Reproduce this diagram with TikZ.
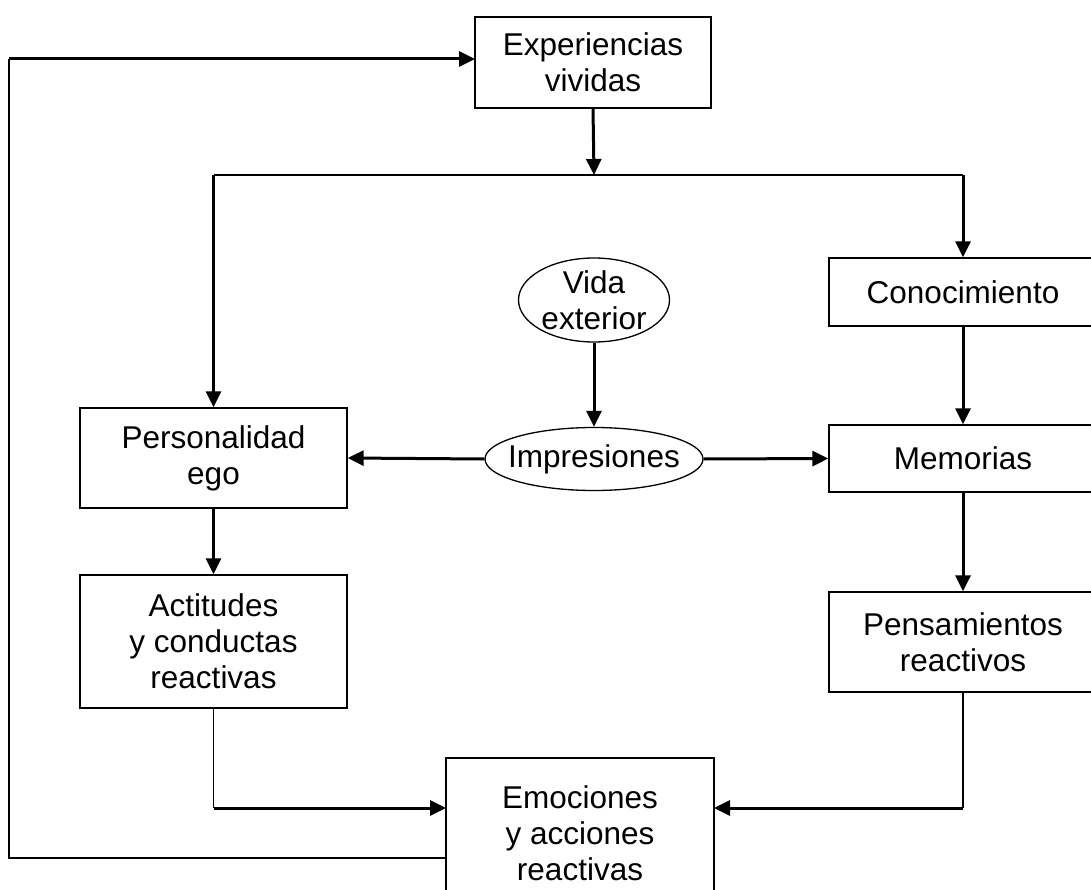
\documentclass[tikz,border=0pt]{standalone}
\usepackage{fontspec}
\setmainfont{Liberation Sans}
\usetikzlibrary{shapes.geometric,arrows.meta}
\begin{document}
\begin{tikzpicture}[x=1pt,y=-1pt,
  txt/.style={font=\fontsize{31.5}{36}\selectfont, align=center, inner sep=0pt},
  boxnode/.style={txt, draw, line width=1.3pt, rectangle},
  ellnode/.style={txt, draw, line width=1.3pt, ellipse},
  arr/.style={line width=3pt, -{Triangle[length=16pt,width=15pt]}},
  plainline/.style={line width=1.6pt}]
\useasboundingbox (0,0) rectangle (1091,890);
% boxes
\node[boxnode, minimum width=236, minimum height=91] (exp) at (593,62.5) {Experiencias\\vividas};
\node[boxnode, minimum width=268, minimum height=68] (con) at (963,292) {Conocimiento};
\node[ellnode, minimum width=151, minimum height=84, inner ysep=-3pt] (vida) at (594,300) {Vida\\exterior};
\node[ellnode, minimum width=218, minimum height=63, inner xsep=-9pt] (imp) at (594,459) {Impresiones};
\node[boxnode, minimum width=267, minimum height=100] (pers) at (213.5,458) {Personalidad\\ego};
\node[boxnode, minimum width=268, minimum height=67] (mem) at (963,458.5) {Memorias};
\node[boxnode, minimum width=267, minimum height=133] (act) at (213.5,641.5) {Actitudes\\y conductas\\reactivas};
\node[boxnode, minimum width=268, minimum height=100] (pen) at (963,642) {Pensamientos\\reactivos};
\node[boxnode, minimum width=268, minimum height=150] (emo) at (580,833) {Emociones\\y acciones\\reactivas};
% coordinates
\coordinate (split) at (594,175);
\coordinate (splitL) at (213.5,175);
\coordinate (splitR) at (963,175);
\coordinate (actB) at (213.5,808);
\coordinate (penB) at (963,808);
\coordinate (emoL) at (446,858);
\coordinate (loopB) at (9,858);
\coordinate (loopT) at (9,59);
\coordinate (expL) at (475,59);
\coordinate (emoLa) at (446,808);
\coordinate (emoRa) at (714,808);
% connectors
\draw[arr] (exp.south) -- (split);
\draw[plainline] (splitL) -- (splitR);
\draw[arr] (splitL) -- (pers.north);
\draw[arr] (splitR) -- (con.north);
\draw[arr] (con.south) -- (mem.north);
\draw[arr] (vida.south) -- (imp.north);
\draw[arr] (imp.west) -- (pers.east);
\draw[arr] (imp.east) -- (mem.west);
\draw[arr] (pers.south) -- (act.north);
\draw[arr] (mem.south) -- (pen.north);
\draw[plainline] (act.south) -- (actB);
\draw[arr] (actB) -- (emoLa);
\draw[plainline] (pen.south) -- (penB);
\draw[arr] (penB) -- (emoRa);
\draw[plainline] (emoL) -- (loopB) -- (loopT);
\draw[arr] (loopT) -- (expL);
\end{tikzpicture}
\end{document}
